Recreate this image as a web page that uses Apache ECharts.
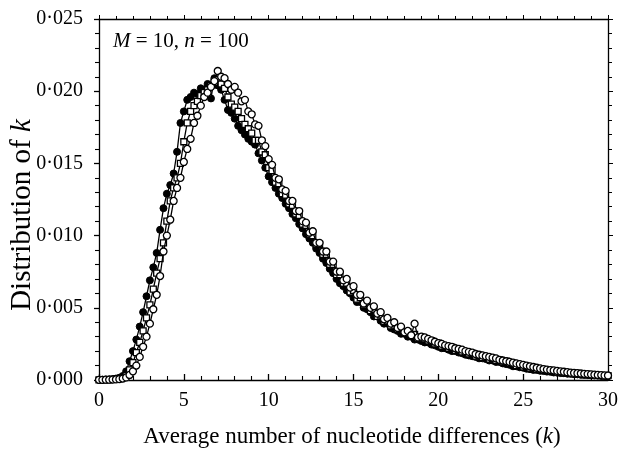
<!DOCTYPE html>
<html><head><meta charset="utf-8">
<script src="https://cdn.jsdelivr.net/npm/echarts@6/dist/echarts.min.js"></script>
<style>html,body{margin:0;padding:0;background:#fff}#c{width:618px;height:450px}</style>
</head><body><div id="c"></div>
<script>
// k values (x), step 0.2
const kValues = [0,0.2,0.4,0.6,0.8,1,1.2,1.4,1.6,1.8,2,2.2,2.4,2.6,2.8,3,3.2,3.4,3.6,3.8,4,4.2,4.4,4.6,4.8,5,5.2,5.4,5.6,5.8,6,6.2,6.4,6.6,6.8,7,7.2,7.4,7.6,7.8,8,8.2,8.4,8.6,8.8,9,9.2,9.4,9.6,9.8,10,10.2,10.4,10.6,10.8,11,11.2,11.4,11.6,11.8,12,12.2,12.4,12.6,12.8,13,13.2,13.4,13.6,13.8,14,14.2,14.4,14.6,14.8,15,15.2,15.4,15.6,15.8,16,16.2,16.4,16.6,16.8,17,17.2,17.4,17.6,17.8,18,18.2,18.4,18.6,18.8,19,19.2,19.4,19.6,19.8,20,20.2,20.4,20.6,20.8,21,21.2,21.4,21.6,21.8,22,22.2,22.4,22.6,22.8,23,23.2,23.4,23.6,23.8,24,24.2,24.4,24.6,24.8,25,25.2,25.4,25.6,25.8,26,26.2,26.4,26.6,26.8,27,27.2,27.4,27.6,27.8,28,28.2,28.4,28.6,28.8,29,29.2,29.4,29.6,29.8,30];

// Distribution of k, in units of 0.0001
const filledCircles = [0.2,0.2,0.3,0.4,0.6,1.0,1.6,2.8,6,13,20,28,37,47,58,69,78,88,104,119,129,135,143,158,178,186,194,196,199,198,202,201,205,195,209,204,201,194,187,185,181,176,173,170,167,165,163,157,152,147,141,137,133,129,126,122,119,115,112,108,105,101,98,95,91,88,84,81,77,74,70,67,65,62,60,
  57,54,54,50,49,47,44,44,41,39,39,36,35,34,32,32,30,30,28,28,
  27,26,26,24.5,24,23,22,22,21,20,20,19,18.5,17.5,17,16.5,16,15,15,14.5,
  13.5,13.5,12.5,12.5,11.5,11,10.5,9.5,9.5,8.8,8.5,7.8,7.5,7,7,6.4,6.2,5.8,5.7,5.2,
  5.1,4.8,4.7,4.4,4.3,4,3.9,3.6,3.5,3.4,3.2,3.1,3.0,2.8,2.8,2.6];

const openSquares = [0.1,0.2,0.2,0.3,0.4,0.6,1.0,1.7,3,7,12,19,26,34,43,52,63,74,84,95,110,124,133,140,150,165,178,186,190,193,197,199,201,204,206,208,205,202,196,191,189,186,181,177,174,
  171,166,166,158,156,147,145,137,136,129,128,122,121,115,114,108,107,101,100,94,94,87,87,80,80,73,73,67,67,61,62,56,57,52,53,48,49,44,45,40.5,41,37.5,38,35,35.5,33,33.5,31,31.5,29,29.5,
  28.5,27,27,25,25.5,23.5,23.5,22,22.5,20.5,21,19.5,19.5,18,18.5,16.5,17,15.5,16,14.5,15,13.5,14,12.5,13,11.5,11.5,10,10.5,9,9.5,8.2,8.4,7.3,7.5,6.7,6.9,6,6.3,5.4,5.7,4.9,5.1,4.5,4.7,4.1,4.3,3.7,3.9,3.4,3.5,3.2,3.2,2.9,3.0];

const openCircles = [0.1,0.1,0.2,0.2,0.3,0.4,0.6,1.0,1.8,3.5,6,10,16,23,30,39,49,59,72,89,100,111,124,133,140,151,160,167,178,183,190,196,199,203,207,214,210,209,205,201,203,199,193,194,186,
  184,177,176,166,162,153,149,140,139,132,131,124,124,117,117,110,109,102,103,95,95,89,89,82,82,75,75,69,70,64,65,59,59,53,55,50,51,46,47,42,43,39,40,36,37,33,34,31,39,29.5,30,
  29.5,28.5,27.5,26.5,25.5,25,24,23.5,23,22,21.5,21,20,19.5,19,18,17.5,17,16.5,16,15.5,15,14,13.5,13,12.5,12,11.5,11,10.5,10,9.5,9,8.5,8,7.6,7.2,6.9,6.6,6.3,6,5.7,5.4,5.1,4.9,4.7,4.5,4.3,4.1,3.9,3.7,3.5,3.4,3.2,3.1];

const xTickLabels = ['0','5','10','15','20','25','30'];
const yTickLabels = ['0·000','0·005','0·010','0·015','0·020','0·025'];
const xTitle = 'Average number of nucleotide differences ({i|k})';
const yTitle = 'Distribution of {i|k}';
const panelNote = '{i|M} = 10, {i|n} = 100';

const FONT = '"Liberation Serif","DejaVu Serif",serif';
const chart = echarts.init(document.getElementById('c'), null, {renderer:'canvas'});

function pairs(arr){ return kValues.map((k,i)=>[k, arr[i]]); }

const axisLineStyle = {color:'#000', width:1.3};
const option = {
  animation:false,
  backgroundColor:'#fff',
  grid:{left:99, right:10, top:19, bottom:70, show:false, containLabel:false, outerBoundsMode:'none'},
  xAxis:[{
    type:'value', min:0, max:30, interval:5, position:'bottom',
    axisLine:{show:true, onZero:false, lineStyle:axisLineStyle},
    axisTick:{show:true, inside:true, length:6, lineStyle:{color:'#000', width:1.3}},
    minorTick:{show:true, splitNumber:5, length:4, lineStyle:{color:'#000', width:1.1}},
    splitLine:{show:false},
    axisLabel:{color:'#000', fontFamily:FONT, fontSize:20, margin:11,
      formatter:(v)=>xTickLabels[Math.round(v/5)]}
  },{
    type:'value', min:0, max:30, interval:5, position:'top',
    axisLine:{show:true, onZero:false, lineStyle:axisLineStyle},
    axisTick:{show:true, inside:false, length:4, lineStyle:{color:'#000', width:1}},
    minorTick:{show:true, splitNumber:5, length:3, lineStyle:{color:'#000', width:1}},
    splitLine:{show:false}, axisLabel:{show:false}
  }],
  yAxis:[{
    type:'value', min:0, max:250, interval:50, position:'left',
    axisLine:{show:true, onZero:false, lineStyle:axisLineStyle},
    axisTick:{show:true, inside:false, length:5, lineStyle:{color:'#000', width:1.3}},
    minorTick:{show:true, splitNumber:5, length:4, lineStyle:{color:'#000', width:1.1}},
    splitLine:{show:false},
    axisLabel:{color:'#000', fontFamily:FONT, fontSize:20, margin:16,
      formatter:(v)=>yTickLabels[Math.round(v/50)]}
  },{
    type:'value', min:0, max:250, interval:50, position:'right',
    axisLine:{show:true, onZero:false, lineStyle:axisLineStyle},
    axisTick:{show:true, inside:false, length:5, lineStyle:{color:'#000', width:1}},
    minorTick:{show:true, splitNumber:5, length:4, lineStyle:{color:'#000', width:1}},
    splitLine:{show:false}, axisLabel:{show:false}
  }],
  series:[
    {type:'line', data:pairs(filledCircles), symbol:'circle', symbolSize:7, showAllSymbol:true,
      lineStyle:{color:'#000', width:1.3}, itemStyle:{color:'#000', borderColor:'#000', borderWidth:1}, z:2},
    {type:'line', data:pairs(openSquares), symbol:'rect', symbolSize:6, showAllSymbol:true,
      lineStyle:{color:'#000', width:1.3}, itemStyle:{color:'#fff', borderColor:'#000', borderWidth:1.3}, z:3},
    {type:'line', data:pairs(openCircles), symbol:'circle', symbolSize:7, showAllSymbol:true,
      lineStyle:{color:'#000', width:1.3}, itemStyle:{color:'#fff', borderColor:'#000', borderWidth:1.3}, z:4}
  ],
  graphic:[{
    type:'text', x:113, y:41,
    style:{
      text:panelNote, fill:'#000', font:'21px "Liberation Serif"',
      textAlign:'left', textVerticalAlign:'middle',
      rich:{i:{fontStyle:'italic', fontFamily:FONT, fontSize:21, fill:'#000'}}
    }
  },{
    type:'text', x:352, y:437,
    style:{
      text:xTitle, fill:'#000', font:'23px "Liberation Serif"',
      textAlign:'center', textVerticalAlign:'middle',
      rich:{i:{fontStyle:'italic', fontFamily:FONT, fontSize:23, fill:'#000'}}
    }
  },{
    type:'text', x:22, y:215, rotation:Math.PI/2,
    style:{
      text:yTitle, fill:'#000', font:'29px "Liberation Serif"',
      textAlign:'center', textVerticalAlign:'middle',
      rich:{i:{fontStyle:'italic', fontFamily:FONT, fontSize:29, fill:'#000'}}
    }
  }]
};
chart.setOption(option);
</script>
</body></html>
